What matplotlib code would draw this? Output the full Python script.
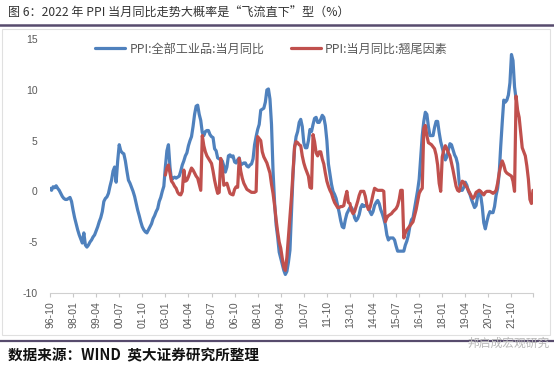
import matplotlib.pyplot as plt
import numpy as np
from matplotlib.lines import Line2D
from matplotlib.patches import Rectangle

plt.rcParams['font.family'] = ['Noto Sans CJK SC', 'DejaVu Sans']
plt.rcParams['axes.unicode_minus'] = False

# PPI:全部工业品:当月同比, monthly from 1996-10 to 2022-01
ppi = [
    0.3, 0.1, 0.45,
    0.35, 0.55, 0.3, 0.1, -0.2, -0.5, -0.7, -0.8, -0.8, -0.7, -0.6, -1.0,
    -1.85, -2.6, -3.2, -3.8, -4.3, -4.7, -5.1, -4.1, -5.3, -5.5, -5.3, -5.0,
    -4.8, -4.5, -4.3, -3.9, -3.5, -3.0, -2.6, -2.0, -1.0, -0.7, -0.55, -0.2,
    0.5, 1.1, 2.0, 2.4, 0.9, 3.0, 4.6, 4.0, 3.8, 3.7, 3.0, 2.0,
    1.1, 0.8, 0.4, 0.0, -0.5, -1.2, -1.85, -2.4, -3.0, -3.5, -3.8, -4.0,
    -4.1, -3.8, -3.5, -3.2, -2.7, -2.4, -2.0, -1.7, -1.0, -0.6, 0.0, 0.5,
    2.4, 4.0, 4.6, 2.4, 1.1, 1.3, 1.4, 1.3, 1.4, 1.5, 2.0, 2.6,
    3.0, 3.5, 3.8, 4.5, 5.0, 5.4, 6.4, 7.6, 8.4, 8.5, 7.6, 7.0,
    5.8, 5.5, 5.9, 6.0, 6.0, 5.6, 5.4, 5.3, 4.2, 4.0, 3.3, 3.2,
    3.1, 3.0, 2.5, 1.9, 2.4, 3.5, 3.6, 3.4, 3.5, 2.9, 2.8, 3.1,
    3.3, 2.6, 2.7, 2.8, 2.8, 2.5, 2.4, 2.6, 2.7, 3.2, 4.6, 5.4,
    6.1, 6.6, 8.0, 8.1, 8.2, 8.8, 10.0, 10.1, 9.1, 6.6, 2.0, -1.1,
    -3.3, -4.5, -6.0, -6.6, -7.2, -7.8, -8.2, -7.9, -7.0, -5.8, -2.1, 1.7,
    4.3, 5.4, 5.9, 6.8, 7.1, 6.4, 4.8, 4.3, 4.3, 5.0, 6.1, 5.9,
    6.6, 7.2, 7.3, 6.8, 6.8, 7.1, 7.5, 7.3, 6.5, 5.0, 2.7, 1.7,
    0.7, 0.0, -0.3, -0.7, -1.4, -2.1, -2.9, -3.5, -3.6, -2.8, -2.2, -1.9,
    -1.6, -1.6, -1.9, -2.6, -2.9, -2.7, -2.3, -1.6, -1.3, -1.5, -1.4, -1.4,
    -1.6, -2.0, -2.3, -2.0, -1.4, -1.1, -0.9, -1.2, -1.8, -2.2, -2.7, -3.3,
    -4.3, -4.8, -4.6, -4.6, -4.6, -4.8, -5.4, -5.9, -5.9, -5.9, -5.9, -5.9,
    -5.3, -4.9, -4.3, -3.4, -2.8, -2.6, -1.7, -0.8, 0.1, 1.2, 3.3, 5.5,
    6.9, 7.8, 7.6, 6.4, 5.5, 5.5, 5.5, 6.3, 6.9, 6.9, 5.8, 4.9,
    4.3, 3.7, 3.1, 3.4, 4.1, 4.7, 4.6, 4.1, 3.6, 3.3, 2.7, 0.9,
    0.1, 0.1, 0.4, 0.9, 0.6, 0.0, -0.3, -0.8, -1.2, -1.6, -1.4, -0.5,
    0.1, -0.4, -1.5, -3.1, -3.7, -3.0, -2.4, -2.0, -2.1, -2.1, -1.5, -0.4,
    0.3, 1.7, 4.4, 6.8, 9.0, 8.8, 9.0, 9.5, 10.7, 13.5, 12.9, 10.3,
    9.1,
]

# PPI:当月同比:翘尾因素, monthly from 2003-01 to 2022-12
carry_start = 75
carry = [
    1.6, 2.3, 2.6, 1.8, 1.0, 0.8, 0.5, 0.3, -0.1, -0.3, -0.35, 0.0,
    2.1, 1.0, 1.1, 1.45, 1.9, 2.3, 2.1, 1.8, 1.5, 1.3, 0.7, 0.1,
    5.5, 4.5, 3.9, 3.5, 3.25, 3.0, 2.75, 2.0, 1.1, 0.4, -0.2, -0.1,
    3.25, 2.4, 0.6, 0.7, 0.8, 0.3, -0.2, -0.3, -0.35, 0.2, 0.45, 0.4,
    3.25, 2.0, 1.3, 0.8, 0.5, 0.2, 0.1, 0.0, -0.1, -0.1, -0.1, 0.0,
    5.4, 5.2, 5.0, 3.9, 3.4, 3.1, 2.8, 2.3, 1.8, 0.7, -0.2, -1.4,
    -2.8, -4.0, -5.0, -5.6, -6.6, -7.5, -7.8, -6.5, -4.5, -2.5, -0.5, 2.0,
    4.4, 4.9, 4.8, 4.6, 4.5, 3.5, 2.8, 2.3, 1.9, 1.5, 0.4, 0.3,
    5.6, 4.9, 3.8, 3.5, 3.9, 3.9, 3.2, 2.7, 1.8, 1.0, 0.5, 0.1,
    -0.2, -0.7, -1.1, -1.35, -1.6, -1.6, -1.5, -1.5, -1.4, -0.6, 0.0, -1.1,
    -1.2, -1.9, -2.2, -2.0, -1.5, -1.0, -0.4, 0.0, 0.0, 0.0, -0.5, -1.35,
    -1.8, -1.6, -1.0, -0.3, 0.3, 0.2, 0.1, 0.1, 0.1, 0.1, 0.0, -3.0,
    -2.6, -2.4, -2.3, -2.2, -2.0, -1.85, -1.7, -1.4, -0.8, 0.1, 0.1, -4.6,
    -4.1, -3.8, -3.6, -3.4, -3.2, -3.0, -2.4, -1.8, -1.0, -0.2, 0.1, 0.3,
    6.2, 6.5, 5.5, 4.8, 4.7, 4.6, 4.4, 4.2, 3.6, 2.6, 0.8, 0.0,
    3.4, 4.1, 4.5, 4.2, 3.8, 3.5, 2.8, 2.1, 1.3, 0.5, 0.1, 0.0,
    0.6, 1.0, 0.9, 0.6, 0.4, 0.1, -0.2, -0.5, -0.7, -0.5, -0.1, 0.0,
    0.1, 0.0, -0.2, -0.35, -0.1, 0.0, 0.0, 0.0, -0.1, -0.2, -0.1, 0.1,
    0.8, 1.8, 2.5, 3.0, 2.6, 2.0, 1.8, 1.7, 1.6, 1.5, 1.0, 0.0,
    9.4, 8.0, 7.3, 5.8, 4.3, 3.9, 3.5, 2.5, 1.2, -0.8, -1.2, 0.1,
]

n_months = 315  # 1996-10 .. 2022-12
tick_labels = ['96-10', '98-01', '99-04', '00-07', '01-10', '03-01', '04-04',
               '05-07', '06-10', '08-01', '09-04', '10-07', '11-10', '13-01',
               '14-04', '15-07', '16-10', '18-01', '19-04', '20-07', '21-10']
y_ticks = [-10, -5, 0, 5, 10, 15]

names = ['PPI:全部工业品:当月同比', 'PPI:当月同比:翘尾因素']

W, H = 554, 369
fig = plt.figure(figsize=(W / 100, H / 100), dpi=100)
ax = fig.add_axes([50 / W, 1 - 292.7 / H, 483 / W, (292.7 - 39.3) / H])

ax.plot(np.arange(len(ppi)), ppi, color='#4f81bd', lw=2.3, label=names[0],
        solid_joinstyle='round', solid_capstyle='round')
ax.plot(np.arange(carry_start, carry_start + len(carry)), carry, color='#c0504d',
        lw=2.3, label=names[1], solid_joinstyle='round', solid_capstyle='round')

ax.set_xlim(0, n_months - 1)
ax.set_ylim(-10, 15)
xt = list(range(0, 15 * len(tick_labels), 15)) + [n_months - 1]
ax.set_xticks(xt)
ax.set_xticklabels(tick_labels + [''], rotation=90)
ax.set_yticks(y_ticks)
ax.set_yticklabels([str(v) for v in y_ticks])

for s in ['top', 'right', 'left']:
    ax.spines[s].set_visible(False)
ax.spines['bottom'].set_color('#d0d0d0')
ax.spines['bottom'].set_linewidth(0.8)
ax.tick_params(axis='x', length=3, color='#c8c8c8', width=0.8, pad=3,
               labelsize=7.5, labelcolor='#595959')
ax.tick_params(axis='y', length=0, pad=9, labelsize=7.5, labelcolor='#595959')
for t in ax.get_xticklabels() + ax.get_yticklabels():
    t.set_family(['Liberation Sans', 'DejaVu Sans'])

ax.legend(loc='center left', bbox_to_anchor=(95 / W, 1 - 49 / H),
          bbox_transform=fig.transFigure, ncol=2, frameon=False, fontsize=8.7,
          handlelength=2.48, handletextpad=0.36, columnspacing=2.2,
          borderpad=0, borderaxespad=0, labelcolor='#595959')

fig.add_artist(Rectangle((2 / W, 1 - 335 / H), 548 / W, 306 / H, fill=False,
                         edgecolor='#e0e0e0', lw=0.8, transform=fig.transFigure))
fig.text(8 / W, 1 - 13.5 / H, '图 6：2022 年 PPI 当月同比走势大概率是“飞流直下”型（%）',
         fontsize=8.7, color='#333333', va='center', ha='left')
fig.add_artist(Line2D([0, 1], [1 - 24.7 / H] * 2, transform=fig.transFigure,
                      color='#574b6d', lw=1.8))
fig.add_artist(Line2D([0, 1], [1 - 340.5 / H] * 2, transform=fig.transFigure,
                      color='#574b6d', lw=1.6))
fig.text(8 / W, 1 - 355 / H, '数据来源：WIND  英大证券研究所整理',
         fontsize=10.5, fontweight='bold', color='#111111', va='center', ha='left')
fig.text(550 / W, 1 - 343 / H, '邦启成宏观研究', fontsize=8.5, color='#b8b8b8',
         va='center', ha='right')

fig.savefig('out.png', dpi=100)
